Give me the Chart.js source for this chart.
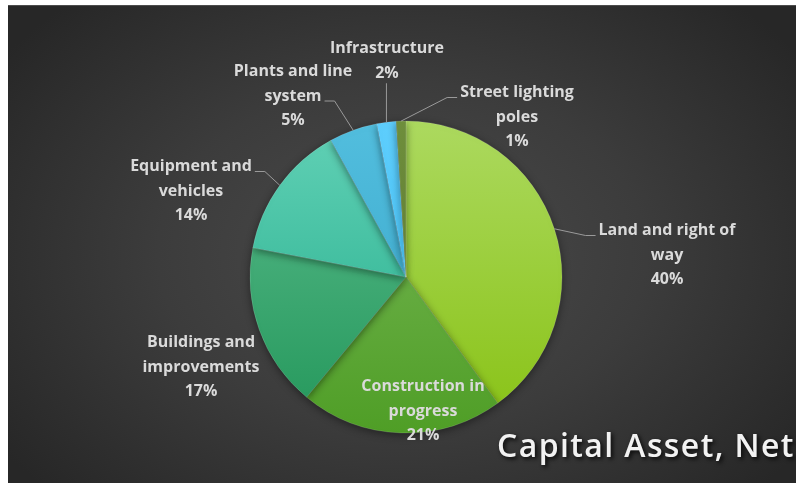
<!DOCTYPE html>
<html>
<head>
<meta charset="utf-8">
<title>Capital Asset, Net</title>
<script src="https://cdn.jsdelivr.net/npm/chart.js@4.4.1/dist/chart.umd.min.js"></script>
<style>
  html, body { margin: 0; padding: 0; background: #fff; }
  #panel {
    position: absolute; left: 8px; top: 5px; width: 788px; height: 478px;
    border-top: 1px solid #4c4c4c; box-sizing: border-box;
    background: radial-gradient(ellipse 62% 72% at 50% 52%, #4b4b4b 0%, #3c3c3c 50%, #272727 100%);
  }
  #assetChart { display: block; }
</style>
</head>
<body>
<div id="panel"><canvas id="assetChart" width="788" height="477"></canvas></div>
<script>
const categories = ['Land and right of way', 'Construction in progress', 'Buildings and improvements',
  'Equipment and vehicles', 'Plants and line system', 'Infrastructure', 'Street lighting poles'];
const shares = [40, 21, 17, 14, 5, 2, 1];
// how each category name wraps on the chart
const labelLines = [
  ['Land and right of', 'way'],
  ['Construction in', 'progress'],
  ['Buildings and', 'improvements'],
  ['Equipment and', 'vehicles'],
  ['Plants and line', 'system'],
  ['Infrastructure'],
  ['Street lighting', 'poles']
];

// slice fills: light at the top of the pie, darker at the bottom
const topColors = ['#acd95f', '#7cba5c', '#5cbc8e', '#62d1b6', '#52bede', '#5ecefd', '#6f8f3d'];
const bottomColors = ['#88c214', '#4f9e26', '#23975a', '#1fab88', '#35a2c6', '#3abaf0', '#58762e'];

// label block centre relative to the pie centre, plus leader hookup
const labelSpots = [
  { dx: 261, dy: -22, leader: 'left', line: 0 },
  { dx: 17, dy: 134 },
  { dx: -205, dy: 90 },
  { dx: -215, dy: -86, leader: 'right', line: 0 },
  { dx: -113, dy: -181, leader: 'right', line: 1 },
  { dx: -19, dy: -216, leader: 'below' },
  { dx: 111, dy: -160, leader: 'left', line: 0 }
];

const PIE_RADIUS = 156;
const LINE_H = 24.5;
const LABEL_FONT = 'bold 16px "Open Sans"';

function sliceFill(ctx) {
  const chart = ctx.chart;
  const area = chart.chartArea;
  const i = ctx.dataIndex;
  if (!area) return topColors[i];
  const cy = (area.top + area.bottom) / 2;
  const g = chart.ctx.createLinearGradient(0, cy - PIE_RADIUS, 0, cy + PIE_RADIUS);
  g.addColorStop(0, topColors[i]);
  g.addColorStop(1, bottomColors[i]);
  return g;
}

const pieShadow = {
  id: 'pieShadow',
  beforeDatasetsDraw(chart) {
    const c = chart.ctx;
    c.save();
    c.shadowColor = 'rgba(0,0,0,0.45)';
    c.shadowBlur = 8;
    c.shadowOffsetY = 2;
  },
  afterDatasetsDraw(chart) {
    chart.ctx.restore();
  }
};

const sliceLabels = {
  id: 'sliceLabels',
  afterDraw(chart) {
    const c = chart.ctx;
    const arcs = chart.getDatasetMeta(0).data;
    c.save();
    c.font = LABEL_FONT;
    c.textAlign = 'center';
    c.textBaseline = 'middle';
    arcs.forEach((arc, i) => {
      const spot = labelSpots[i];
      const lines = labelLines[i].concat([shares[i] + '%']);
      const cx = arc.x + spot.dx;
      const midY = arc.y + spot.dy;
      const firstY = midY - (lines.length - 1) / 2 * LINE_H;

      c.fillStyle = '#dadada';
      lines.forEach((t, k) => c.fillText(t, cx, firstY + k * LINE_H));

      if (!spot.leader) return;
      const mid = (arc.startAngle + arc.endAngle) / 2;
      const ex = arc.x + Math.cos(mid) * arc.outerRadius;
      const ey = arc.y + Math.sin(mid) * arc.outerRadius;
      c.strokeStyle = '#9a9a9a';
      c.lineWidth = 1;
      c.beginPath();
      if (spot.leader === 'below') {
        const by = firstY + (lines.length - 1) * LINE_H + 10;
        c.moveTo(ex, by);
        c.lineTo(ex, ey);
      } else {
        const w = c.measureText(lines[spot.line]).width;
        const ly = firstY + spot.line * LINE_H + 5;
        const dir = spot.leader === 'left' ? -1 : 1;
        const sx = cx + dir * (w / 2 + 3);
        c.moveTo(sx, ly);
        c.lineTo(sx + dir * 10, ly);
        c.lineTo(ex, ey);
      }
      c.stroke();
    });

    // chart caption in the lower right corner
    c.font = '600 32px "Open Sans"';
    c.letterSpacing = '1.4px';
    c.textAlign = 'left';
    c.textBaseline = 'alphabetic';
    c.shadowColor = 'rgba(0,0,0,0.85)';
    c.shadowBlur = 4;
    c.shadowOffsetX = 2;
    c.shadowOffsetY = 2;
    c.fillStyle = '#f2f2f2';
    c.fillText('Capital Asset, Net', 489, 451);
    c.restore();
  }
};

new Chart(document.getElementById('assetChart'), {
  type: 'pie',
  data: {
    labels: categories,
    datasets: [{
      data: shares,
      backgroundColor: sliceFill,
      borderColor: 'rgba(255,255,255,0.18)',
      borderWidth: 0.75,
      hoverOffset: 0
    }]
  },
  options: {
    responsive: false,
    animation: false,
    radius: PIE_RADIUS,
    layout: { padding: { left: 228, right: 220, top: 101, bottom: 36 } },
    plugins: {
      legend: { display: false },
      tooltip: { enabled: false },
      title: { display: false }
    }
  },
  plugins: [pieShadow, sliceLabels]
});
</script>
</body>
</html>
